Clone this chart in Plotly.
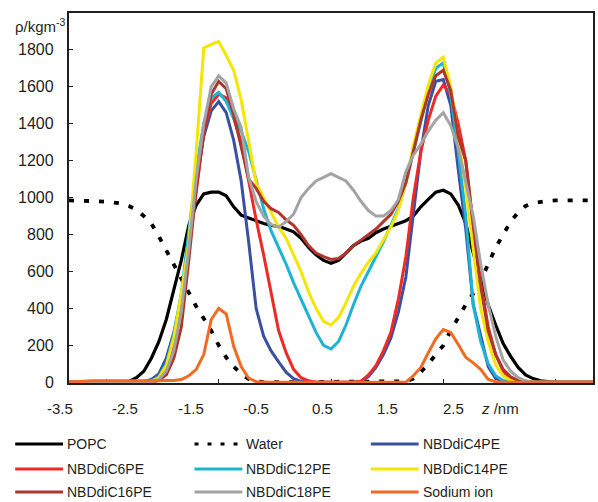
import plotly.graph_objects as go

# z grid (nm), bin centres every 0.1 nm
z_nm = [round(-3.5 + 0.1 * i, 1) for i in range(71)]

popc = [0, 0, 0, 0, 0, 0, 0, 0,
        5, 25, 60, 130, 220, 340, 500, 660, 850, 960,
        1020, 1030, 1030, 1010, 950, 905, 890, 875, 860, 850,
        845, 830, 815, 780, 730, 690, 660, 645, 660, 700,
        740, 765, 780, 810, 830, 845, 860, 875, 900, 950,
        990, 1030, 1040, 1020, 960, 860, 700, 560, 420, 310,
        210, 140, 80, 40, 20, 8, 2,
        0, 0, 0, 0, 0, 0]

water = [985, 985, 983, 982, 980, 978, 975, 968, 955, 935,
         900, 860, 790, 715, 640, 560, 480, 410, 345, 280,
         200, 135, 85, 45, 18, 5, 0, 0, 0, 0,
         0, 0, 0, 0, 0, 0, 0, 0, 0, 0,
         0, 0, 0, 0, 0, 5, 20, 55, 100, 150,
         200, 280, 355, 420, 480, 550, 640, 730, 800, 870,
         920, 955, 970, 978, 982, 985, 985, 985, 985, 985, 985]

c4 = [0, 0, 0, 0, 0, 0, 0, 0, 0, 0,
      5, 15, 45, 130, 270, 450, 780, 1100, 1330, 1470,
      1520, 1460, 1310, 1090, 760, 400, 250, 170, 110, 55,
      20, 5, 0, 0, 0, 0, 0, 0, 0, 5,
      30, 80, 150, 240, 380, 570, 900, 1250, 1500, 1630,
      1640, 1500, 1150, 830, 420, 250, 85, 20, 5, 0,
      0, 0, 0, 0, 0, 0, 0, 0, 0, 0, 0]

c6 = [0, 0, 0, 0, 0, 0, 0, 0, 0, 0,
      0, 5, 20, 70, 200, 400, 720, 1050, 1350, 1510,
      1560, 1540, 1430, 1300, 1080, 880, 690, 490, 280, 160,
      70, 25, 8, 0, 0, 0, 0, 0, 0, 5,
      40, 90, 170, 270, 450, 680, 1000, 1250, 1420, 1550,
      1610, 1560, 1400, 1200, 850, 540, 300, 150, 60, 15,
      3, 0, 0, 0, 0, 0, 0, 0, 0, 0, 0]

c12 = [0, 0, 0, 0, 0, 0, 0, 0, 0, 0,
       0, 8, 30, 100, 260, 480, 800, 1150, 1400, 1540,
       1570, 1520, 1430, 1360, 1250, 1090, 940, 820, 730, 640,
       540, 450, 355, 270, 200, 180, 220, 310, 420, 520,
       600, 680, 760, 850, 940, 1080, 1250, 1420, 1580, 1700,
       1730, 1560, 1250, 900, 420, 220, 100, 35, 10, 0,
       0, 0, 0, 0, 0, 0, 0, 0, 0, 0, 0]

c14 = [0, 0, 0, 0, 0, 0, 0, 0, 0, 0,
       0, 5, 25, 90, 240, 480, 750, 1250, 1810, 1830,
       1845, 1770, 1690, 1530, 1300, 1080, 1000, 920, 840, 780,
       690, 600, 490, 400, 330, 310, 350, 430, 520, 590,
       650, 700, 770, 840, 930, 1080, 1280, 1450, 1610, 1730,
       1760, 1600, 1320, 1050, 720, 400, 220, 95, 35, 10,
       0, 0, 0, 0, 0, 0, 0, 0, 0, 0, 0]

c16 = [0, 0, 0, 0, 0, 0, 0, 0, 0, 0,
       0, 0, 10, 40, 130, 300, 660, 1050, 1350, 1560,
       1630, 1590, 1450, 1280, 1100, 1050, 980, 940, 920, 880,
       850, 800, 740, 700, 680, 665, 670, 700, 740, 770,
       800, 830, 870, 910, 980, 1080, 1250, 1420, 1560, 1660,
       1690, 1580, 1330, 1200, 850, 520, 280, 150, 70, 30,
       10, 3, 0, 0, 0, 0, 0, 0, 0, 0, 0]

c18 = [0, 0, 0, 0, 0, 0, 0, 0, 0, 0,
       0, 0, 15, 60, 170, 380, 720, 1100, 1400, 1600,
       1660, 1620, 1480, 1380, 1110, 980, 900, 855, 840, 870,
       910, 1000, 1050, 1090, 1110, 1130, 1110, 1090, 1040, 980,
       930, 900, 900, 930, 990, 1140, 1230, 1290, 1360, 1420,
       1460, 1390, 1270, 1080, 900, 640, 420, 250, 120, 60,
       25, 8, 0, 0, 0, 0, 0, 0, 0, 0, 0]

sodium = [0, 3, 8, 8, 8, 8, 8, 6, 5, 5,
          5, 6, 8, 10, 10, 15, 35, 70, 150, 340,
          400, 370, 195, 85, 22, 3, 0, 0, 0, 0,
          0, 0, 0, 0, 0, 0, 0, 0, 0, 0,
          0, 0, 0, 0, 0, 0, 35, 80, 160, 235,
          285, 270, 205, 135, 105, 70, 15, 3, 0, 0,
          0, 0, 0, 0, 0, 0, 0, 0, 0, 0, 0]

series_names = ["POPC", "Water", "NBDdiC4PE", "NBDdiC6PE", "NBDdiC12PE",
                "NBDdiC14PE", "NBDdiC16PE", "NBDdiC18PE", "Sodium ion"]
series_values = [popc, water, c4, c6, c12, c14, c16, c18, sodium]
series_colors = ["#000000", "#000000", "#3A51A3", "#EC2B26", "#1DB3D3",
                 "#F4E600", "#B0352C", "#A3A3A3", "#F26A24"]
series_dash = ["solid", "5px,10px", "solid", "solid", "solid",
               "solid", "solid", "solid", "solid"]
series_width = [3.2, 3.8, 3, 3, 3, 3, 3, 3, 3]

x_tick_labels = ["-3.5", "-2.5", "-1.5", "-0.5", "0.5", "1.5", "2.5"]
y_tick_values = [0, 200, 400, 600, 800, 1000, 1200, 1400, 1600, 1800]

for v in series_values:
    assert len(v) == len(z_nm), len(v)

FONT = "Liberation Sans, Arial, sans-serif"
TXT = "#231F20"

fig = go.Figure()
for name, vals, col, dsh, wd in zip(series_names, series_values, series_colors,
                                    series_dash, series_width):
    fig.add_trace(go.Scatter(x=z_nm, y=vals, mode="lines", name=name,
                             line=dict(color=col, width=wd, dash=dsh),
                             showlegend=False))

W, H = 598, 502
L, R, T, B = 69, 3, 13, 119
pw, ph = W - L - R, H - T - B


def px2paper_x(px):
    return (px - L) / pw


def py2paper_y(py):
    return (H - B - py) / ph


annotations = []
shapes = []

# y tick labels, anchored to the y data scale
for v in y_tick_values:
    annotations.append(dict(text=str(v), xref="paper", yref="y",
                            x=px2paper_x(56), y=v,
                            xanchor="right", yanchor="middle", showarrow=False,
                            font=dict(family=FONT, size=16, color=TXT)))

# x tick labels (hand-placed in the original figure)
for i, lab in enumerate(x_tick_labels):
    cx = 59.5 + 65.9 * i
    annotations.append(dict(text=lab, xref="paper", yref="paper",
                            x=px2paper_x(cx), y=py2paper_y(408),
                            xanchor="center", yanchor="middle", showarrow=False,
                            font=dict(family=FONT, size=15, color=TXT)))
annotations.append(dict(text="<i>z</i> /nm", xref="paper", yref="paper",
                        x=px2paper_x(502), y=py2paper_y(408),
                        xanchor="center", yanchor="middle", showarrow=False,
                        font=dict(family=FONT, size=15, color=TXT)))
# y axis title
annotations.append(dict(text="ρ/kgm<sup>-3</sup>", xref="paper", yref="paper",
                        x=px2paper_x(68), y=py2paper_y(26),
                        xanchor="right", yanchor="middle", showarrow=False,
                        font=dict(family=FONT, size=15, color=TXT)))

# legend (3 columns x 3 rows)
col_x = [15, 195, 372]
row_y = [444, 469, 492]
for k, name in enumerate(series_names):
    r, c = divmod(k, 3)
    x0 = col_x[c]
    y0 = row_y[r]
    shapes.append(dict(type="line", xref="paper", yref="paper",
                       x0=px2paper_x(x0), x1=px2paper_x(x0 + 48),
                       y0=py2paper_y(y0), y1=py2paper_y(y0),
                       line=dict(color=series_colors[k], width=3,
                                 dash="4px,9px" if series_dash[k] != "solid" else "solid")))
    annotations.append(dict(text=name, xref="paper", yref="paper",
                            x=px2paper_x(x0 + 50), y=py2paper_y(y0),
                            xanchor="left", yanchor="middle", showarrow=False,
                            font=dict(family=FONT, size=14, color=TXT)))

fig.update_layout(
    width=W, height=H,
    margin=dict(l=L, r=R, t=T, b=B, pad=0),
    paper_bgcolor="white", plot_bgcolor="white",
    showlegend=False,
    font=dict(family=FONT, size=15, color=TXT),
    annotations=annotations,
    shapes=shapes,
    xaxis=dict(range=[-3.5, 3.5], showgrid=False, zeroline=False,
               showline=True, linecolor="#231F20", linewidth=2, mirror=True,
               ticks="inside", ticklen=4, tickwidth=1, tickcolor="#231F20",
               tickvals=[-3, -1.5, 0, 1.5, 3], showticklabels=False,
               layer="below traces"),
    yaxis=dict(range=[-4, 2000], showgrid=False, zeroline=False,
               showline=True, linecolor="#231F20", linewidth=2, mirror=True,
               ticks="inside", ticklen=4, tickwidth=1, tickcolor="#231F20",
               tickvals=y_tick_values, showticklabels=False,
               layer="below traces"),
)

fig.write_html("out.html")
